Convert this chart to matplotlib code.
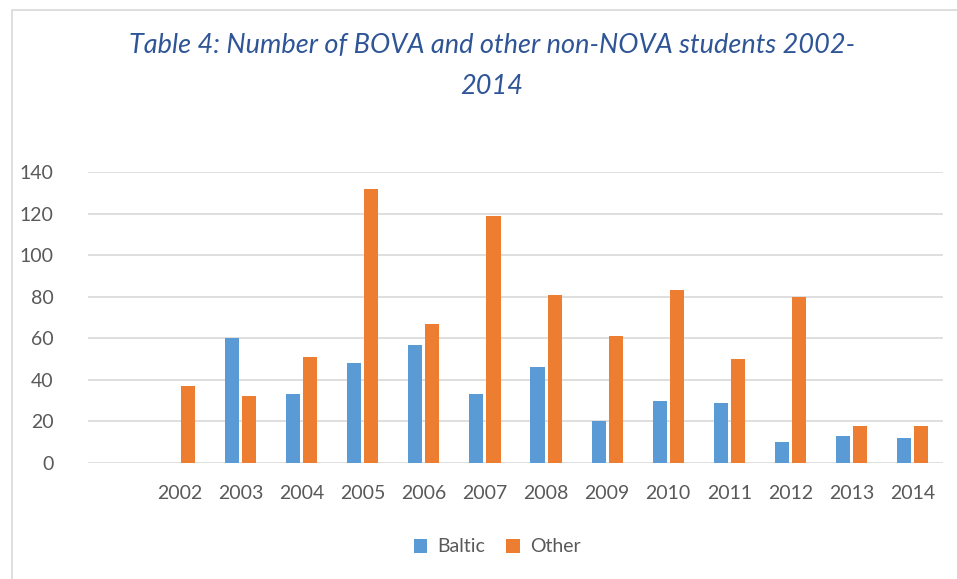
import matplotlib.pyplot as plt
import matplotlib
from matplotlib.patches import Rectangle
import numpy as np

matplotlib.rcParams['font.family'] = 'Lato'

years = ['', '2002', '2003', '2004', '2005', '2006', '2007', '2008',
         '2009', '2010', '2011', '2012', '2013', '2014']
baltic = [0, 0, 60, 33, 48, 57, 33, 46, 20, 30, 29, 10, 13, 12]
other = [0, 37, 32, 51, 132, 67, 119, 81, 61, 83, 50, 80, 18, 18]

fig = plt.figure(figsize=(9.57, 5.79), dpi=100)
ax = fig.add_axes([88/957, 116/579, 855/957, 291/579])

x = np.arange(len(years))
w = 0.23
ax.bar(x - 0.14, baltic, w, color='#5B9BD5', label='Baltic', zorder=3)
ax.bar(x + 0.14, other, w, color='#ED7D31', label='Other', zorder=3)

ax.set_xlim(-0.5, len(years) - 0.5)
ax.set_ylim(0, 140)
ax.set_yticks(range(0, 141, 20))
ax.set_xticks(x)
ax.set_xticklabels(years)
ax.yaxis.grid(True, color='#D9D9D9', lw=1.2, zorder=0)
for s in ax.spines.values():
    s.set_visible(False)
ax.tick_params(length=0, labelsize=14, labelcolor='#595959')
ax.tick_params(axis='y', pad=25)
ax.tick_params(axis='x', pad=16)

ax.legend(loc='center', bbox_to_anchor=(497/957, 1 - 547/579),
          bbox_transform=fig.transFigure, ncol=2, frameon=False,
          fontsize=14, labelcolor='#595959', handlelength=0.7,
          handleheight=0.7, handletextpad=0.5, columnspacing=1.1)

fig.text(492/957, 1 - 46/579, 'Table 4: Number of BOVA and other non-NOVA students 2002-',
         ha='center', va='center', fontsize=19.5, style='italic', color='#2F5597')
fig.text(492/957, 1 - 87/579, '2014',
         ha='center', va='center', fontsize=19.5, style='italic', color='#2F5597')

fig.patches.append(Rectangle((12/957, -0.1), 1.2, 1 - 10/579 + 0.1,
                             transform=fig.transFigure, fill=False,
                             edgecolor='#D9D9D9', lw=1.2))

plt.savefig('out.png', dpi=100)
